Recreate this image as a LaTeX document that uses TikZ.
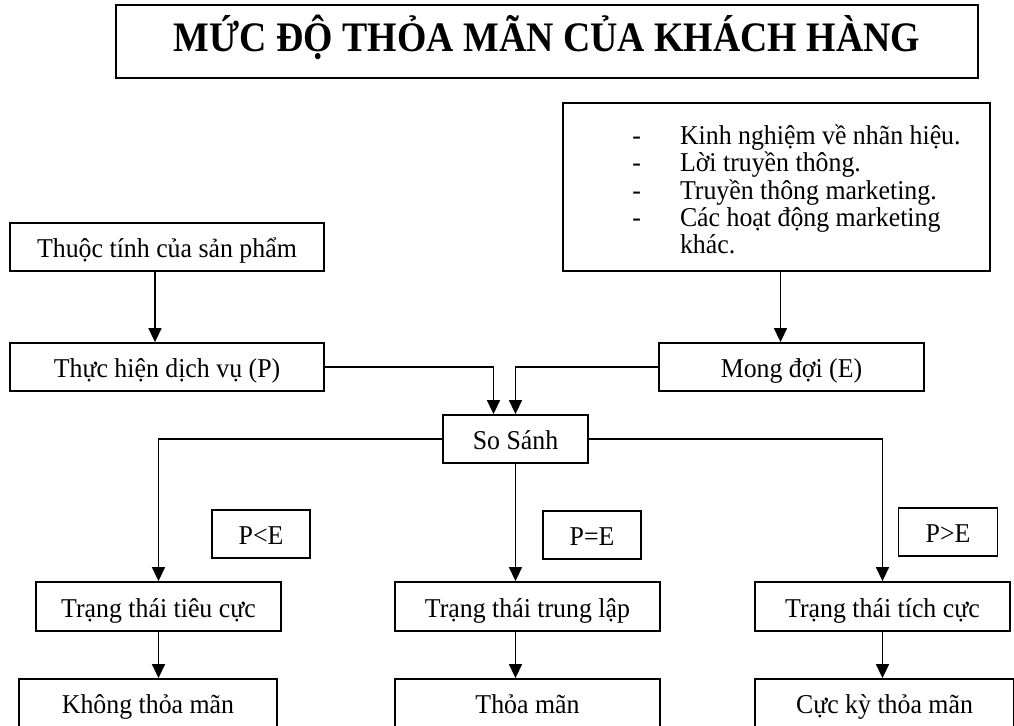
\documentclass[tikz,border=0pt]{standalone}
\usepackage{fontspec}
\setmainfont{Liberation Serif}[FakeStretch=0.95]
\newfontfamily\tieudefont{Liberation Serif}[FakeStretch=0.9]
\usetikzlibrary{arrows.meta}

\begin{document}
\begin{tikzpicture}[x=0.5pt,y=-0.5pt,
    hop/.style={draw,line width=0.9pt,minimum height=24pt,inner sep=0pt,text height=12pt,text depth=1pt,font=\fontsize{13.6}{14}\selectfont},
    muiten/.style={-{Triangle[length=7pt,width=6.5pt]},line width=0.8pt}]
    \useasboundingbox (0,0) rectangle (1014,726);
    \node [hop,minimum width=431pt,minimum height=36.5pt,text height=14pt,text depth=3.5pt,font=\tieudefont\fontsize{21}{24}\selectfont\bfseries] (tieude) at (547,41.5) {MỨC ĐỘ THỎA MÃN CỦA KHÁCH HÀNG};
    \node [hop,minimum width=213.5pt,minimum height=84pt] (kinhnghiem) at (776.5,187) {};
    \node [anchor=north west,inner sep=0pt,font=\fontsize{13.6}{13.5}\selectfont] (danhsach) at (632,124) {\begin{tabular}{@{}l@{\hspace{19.5pt}}l@{}}
        - & Kinh nghiệm về nhãn hiệu.\\
        - & Lời truyền thông.\\
        - & Truyền thông marketing.\\
        - & Các hoạt động marketing\\
          & khác.
    \end{tabular}};
    \node [hop,minimum width=157pt] (thuoctinh) at (167,247) {Thuộc tính của sản phẩm};
    \node [hop,minimum width=157pt] (thuchien) at (167,367) {Thực hiện dịch vụ (P)};
    \node [hop,minimum width=132.5pt] (mongdoi) at (791.5,367) {Mong đợi (E)};
    \node [hop,minimum width=72.5pt] (sosanh) at (515.5,439) {So Sánh};
    \node [hop,minimum width=49pt] (nhohon) at (261,534) {P<E};
    \node [hop,minimum width=49pt] (bang) at (592,535) {P=E};
    \node [hop,minimum width=49.5pt] (lonhon) at (948,532) {P>E};
    \node [hop,minimum width=122.5pt,minimum height=24.5pt] (tieucuc) at (158.5,606.5) {Trạng thái tiêu cực};
    \node [hop,minimum width=132.5pt,minimum height=24.5pt] (trunglap) at (527.5,606.5) {Trạng thái trung lập};
    \node [hop,minimum width=127.5pt,minimum height=24.5pt] (tichcuc) at (882.5,606.5) {Trạng thái tích cực};
    \node [hop,minimum width=129pt] (khongtm) at (148,703) {Không thỏa mãn};
    \node [hop,minimum width=132.5pt] (thoaman) at (527.5,703) {Thỏa mãn};
    \node [hop,minimum width=129.5pt] (cucky) at (884.5,703) {Cực kỳ thỏa mãn};
    % cac mui ten
    \draw [muiten] ([xshift=-6pt]thuoctinh.south) -- ([xshift=-6pt]thuoctinh.south |- thuchien.north);
    \draw [muiten] ([xshift=2pt]kinhnghiem.south) -- ([xshift=2pt]kinhnghiem.south |- mongdoi.north);
    \draw [muiten] (thuchien.east) -| ([xshift=-11pt]sosanh.north);
    \draw [muiten] (mongdoi.west) -| (sosanh.north);
    \draw [muiten] (sosanh.west) -| (tieucuc.north);
    \draw [muiten] (sosanh.south) -- (sosanh.south |- trunglap.north);
    \draw [muiten] (sosanh.east) -| (tichcuc.north);
    \draw [muiten] (tieucuc.south) -- (tieucuc.south |- khongtm.north);
    \draw [muiten] (sosanh.south |- trunglap.south) -- (sosanh.south |- thoaman.north);
    \draw [muiten] (tichcuc.south) -- (tichcuc.south |- cucky.north);
\end{tikzpicture}
\end{document}
